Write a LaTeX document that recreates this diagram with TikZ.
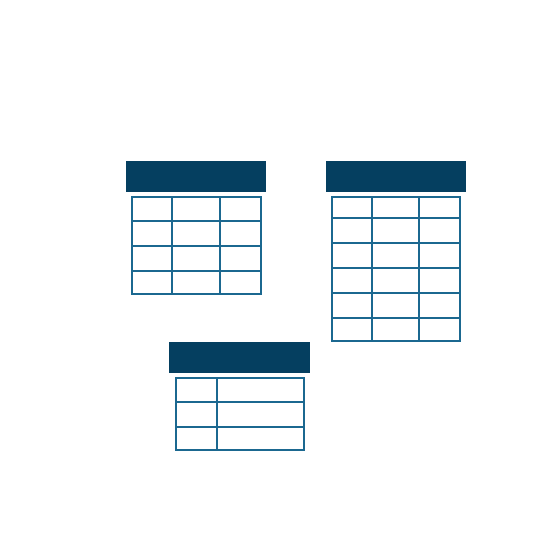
\documentclass[tikz,border=0pt]{standalone}
\usetikzlibrary{positioning}
\definecolor{headnavy}{HTML}{053F60}
\definecolor{gridblue}{HTML}{1B6890}

\begin{document}
\begin{tikzpicture}[x=1pt,y=-1pt,
	tablehead/.style={fill=headnavy},
	tablegrid/.style={draw=gridblue,line width=2.6pt}]
	\useasboundingbox (0,0) rectangle (540,540);
	% left table
		\fill[tablehead] (126,161) rectangle (266,192);
		\draw[tablegrid] (132,197) rectangle (261,294);
		\foreach \x in {172,220} \draw[tablegrid] (\x,197) -- (\x,294);
		\foreach \y in {221,246,271} \draw[tablegrid] (132,\y) -- (261,\y);
	% right table
		\fill[tablehead] (326,161) rectangle (466,192);
		\draw[tablegrid] (332,197) rectangle (460,341);
		\foreach \x in {372,419} \draw[tablegrid] (\x,197) -- (\x,341);
		\foreach \y in {218,243,268,293,318} \draw[tablegrid] (332,\y) -- (460,\y);
	% bottom table
		\fill[tablehead] (169,342) rectangle (310,373);
		\draw[tablegrid] (176,378) rectangle (304,450);
		\draw[tablegrid] (217,378) -- (217,450);
		\foreach \y in {402,427} \draw[tablegrid] (176,\y) -- (304,\y);
\end{tikzpicture}
\end{document}
